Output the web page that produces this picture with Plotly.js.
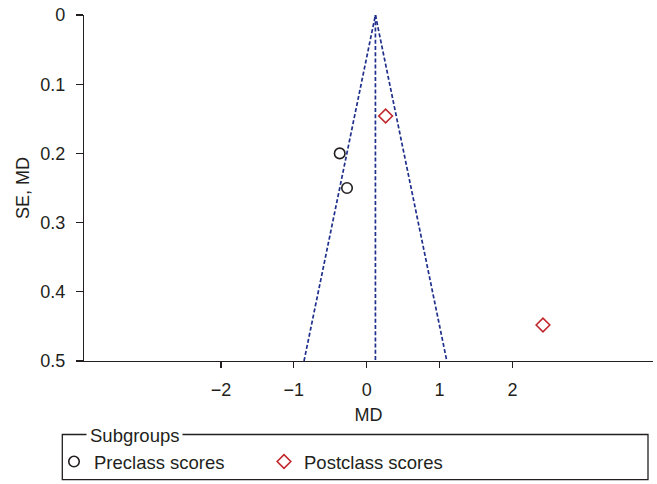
<!DOCTYPE html>
<html>
<head>
<meta charset="utf-8">
<script src="https://cdn.plot.ly/plotly-3.0.1.min.js"></script>
<style>html,body{margin:0;padding:0;background:#fff;}#chart{width:657px;height:484px;}</style>
</head>
<body>
<div id="chart"></div>
<script>
// Study points
const preMD = [-0.37, -0.27];
const preSE = [0.20, 0.25];
const postMD = [0.26, 2.42];
const postSE = [0.146, 0.448];
// Funnel (pooled MD and 95% pseudo-confidence limits)
const funnelMD = [-0.86, 0.12, 1.10];
const funnelSE = [0.5, 0, 0.5];
const pooledMD = [0.12, 0.12];
const pooledSE = [0, 0.5];
const xTicks = [-2, -1, 0, 1, 2];
const yTicks = [0, 0.1, 0.2, 0.3, 0.4, 0.5];

const FONT = '"Liberation Sans", Arial, Helvetica, sans-serif';
const TXT = '#231f20';
const NAVY = '#1f2f8c';
const RED = '#c1272d';

const traces = [
  {x: funnelMD, y: funnelSE, mode: 'lines', showlegend: false, hoverinfo: 'skip',
   line: {color: NAVY, width: 1.7, dash: '4px,2.2px'}},
  {x: pooledMD, y: pooledSE, mode: 'lines', showlegend: false, hoverinfo: 'skip',
   line: {color: NAVY, width: 1.7, dash: '4px,2.2px'}},
  {x: preMD, y: preSE, mode: 'markers', name: 'Preclass scores',
   marker: {symbol: 'circle-open', size: 10.5, color: TXT, line: {width: 1.6, color: TXT}}},
  {x: postMD, y: postSE, mode: 'markers', name: 'Postclass scores',
   marker: {symbol: 'diamond-open', size: 10.5, color: RED, line: {width: 1.6, color: RED}}}
];

const H = 347, W = 569;
const px2x = p => (p - 84) / W;
const px2y = p => (362 - p) / H;

const layout = {
  width: 657, height: 484,
  margin: {l: 84, r: 4, t: 15, b: 122},
  paper_bgcolor: '#fff', plot_bgcolor: '#fff',
  font: {family: FONT, size: 18, color: TXT},
  showlegend: true,
  legend: {orientation: 'h', x: px2x(54), xanchor: 'left', y: px2y(462), yanchor: 'middle',
           font: {family: FONT, size: 18.5, color: TXT}, entrywidth: 165, bgcolor: 'rgba(0,0,0,0)',
           itemclick: false},
  xaxis: {
    range: [-3.88, 3.93], tickvals: xTicks, ticks: 'outside', ticklen: 6, tickwidth: 1.2,
    tickcolor: TXT, showline: true, linecolor: TXT, linewidth: 1.2, showgrid: false, zeroline: false,
    tickfont: {family: FONT, size: 18, color: TXT}, ticklabelstandoff: 6,
    title: {text: 'MD', font: {family: FONT, size: 18, color: TXT}, standoff: 9}
  },
  yaxis: {
    range: [0.5, 0], tickvals: yTicks, ticks: 'outside', ticklen: 7, tickwidth: 1.2,
    tickcolor: TXT, showline: true, linecolor: TXT, linewidth: 1.2, showgrid: false, zeroline: false,
    tickfont: {family: FONT, size: 18, color: TXT}, ticklabelstandoff: 7,
    title: {text: 'SE, MD', font: {family: FONT, size: 18, color: TXT}, standoff: 5}
  },
  shapes: [
    {type: 'rect', xref: 'paper', yref: 'paper', x0: px2x(62.3), x1: px2x(648), y0: px2y(481), y1: px2y(435.7),
     line: {color: TXT, width: 1.3}, fillcolor: 'rgba(0,0,0,0)'}
  ],
  annotations: [
    {text: 'Subgroups', xref: 'paper', yref: 'paper', x: px2x(86), y: px2y(437), xanchor: 'left', yanchor: 'middle',
     showarrow: false, bgcolor: '#fff', borderpad: 3, font: {family: FONT, size: 18.5, color: TXT}}
  ]
};

Plotly.newPlot('chart', traces, layout, {displayModeBar: false, staticPlot: true});
</script>
</body>
</html>
